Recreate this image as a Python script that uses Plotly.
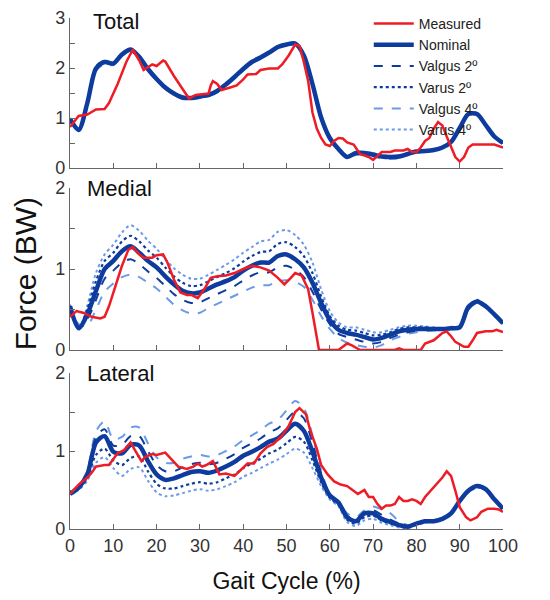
import plotly.graph_objects as go
from plotly.subplots import make_subplots

# ---------------- data ----------------
x_model = list(range(0, 101, 2))

total_nominal = [0.98,0.76,1.30,1.99,2.12,2.09,2.27,2.37,2.22,1.98,1.78,1.61,1.49,1.41,1.40,1.43,1.46,1.54,1.67,1.82,1.98,2.12,2.21,2.31,2.42,2.47,2.49,2.25,1.68,1.01,0.60,0.38,0.22,0.30,0.30,0.27,0.23,0.22,0.23,0.28,0.33,0.34,0.36,0.41,0.52,0.80,1.08,1.08,0.86,0.63,0.50]
total_valgus2 = [0.97,0.77,1.28,1.97,2.11,2.08,2.26,2.36,2.21,1.97,1.77,1.60,1.48,1.40,1.39,1.42,1.45,1.53,1.66,1.81,1.97,2.11,2.20,2.30,2.41,2.46,2.48,2.26,1.70,1.03,0.61,0.38,0.22,0.28,0.28,0.25,0.21,0.20,0.22,0.27,0.32,0.34,0.36,0.41,0.52,0.80,1.07,1.08,0.86,0.63,0.50]
total_varus2 = [0.99,0.75,1.32,2.01,2.14,2.10,2.28,2.38,2.23,1.99,1.79,1.62,1.50,1.42,1.41,1.44,1.47,1.55,1.68,1.83,1.99,2.13,2.22,2.32,2.43,2.48,2.50,2.24,1.66,1.00,0.59,0.38,0.23,0.31,0.31,0.28,0.24,0.23,0.24,0.29,0.34,0.35,0.37,0.42,0.53,0.81,1.09,1.09,0.86,0.63,0.50]
total_valgus4 = [0.96,0.79,1.25,1.94,2.08,2.06,2.24,2.34,2.19,1.95,1.75,1.58,1.46,1.38,1.37,1.40,1.44,1.52,1.65,1.80,1.96,2.10,2.19,2.29,2.40,2.45,2.47,2.27,1.72,1.05,0.62,0.39,0.21,0.26,0.26,0.23,0.19,0.18,0.20,0.26,0.31,0.33,0.35,0.40,0.51,0.79,1.06,1.07,0.86,0.63,0.50]
total_varus4 = [1.00,0.74,1.35,2.03,2.15,2.11,2.29,2.39,2.24,2.00,1.80,1.63,1.51,1.43,1.42,1.45,1.48,1.56,1.69,1.84,2.00,2.14,2.23,2.33,2.44,2.49,2.51,2.23,1.64,0.99,0.58,0.38,0.24,0.32,0.32,0.29,0.25,0.24,0.25,0.30,0.35,0.36,0.38,0.43,0.54,0.82,1.10,1.10,0.87,0.64,0.50]

medial_nominal = [0.54,0.27,0.44,0.73,1.00,1.10,1.22,1.28,1.20,1.10,1.02,0.91,0.81,0.73,0.70,0.71,0.76,0.81,0.85,0.90,0.98,1.04,1.08,1.08,1.16,1.18,1.12,1.02,0.83,0.58,0.37,0.25,0.21,0.19,0.16,0.13,0.15,0.19,0.23,0.25,0.26,0.26,0.26,0.26,0.27,0.28,0.53,0.60,0.54,0.44,0.33]
medial_valgus2 = [0.55,0.29,0.38,0.62,0.88,0.98,1.08,1.12,1.06,0.97,0.89,0.79,0.69,0.62,0.58,0.59,0.64,0.69,0.74,0.79,0.86,0.92,0.96,0.96,1.02,1.04,0.99,0.90,0.72,0.50,0.32,0.20,0.16,0.13,0.10,0.08,0.10,0.15,0.19,0.22,0.24,0.25,0.25,0.25,0.26,0.28,0.50,0.59,0.53,0.44,0.33]
medial_varus2 = [0.53,0.26,0.50,0.85,1.10,1.20,1.34,1.41,1.34,1.23,1.14,1.02,0.91,0.83,0.79,0.80,0.85,0.90,0.95,1.01,1.09,1.16,1.21,1.22,1.31,1.33,1.27,1.16,0.95,0.66,0.42,0.30,0.25,0.24,0.21,0.18,0.19,0.22,0.26,0.28,0.28,0.28,0.27,0.27,0.27,0.29,0.53,0.61,0.55,0.44,0.33]
medial_valgus4 = [0.56,0.32,0.30,0.50,0.72,0.82,0.90,0.93,0.90,0.83,0.76,0.66,0.56,0.49,0.45,0.46,0.52,0.57,0.62,0.67,0.72,0.77,0.80,0.80,0.85,0.86,0.84,0.78,0.62,0.42,0.26,0.15,0.09,0.06,0.04,0.03,0.06,0.12,0.16,0.20,0.22,0.23,0.24,0.24,0.25,0.27,0.50,0.58,0.53,0.44,0.33]
medial_varus4 = [0.52,0.25,0.55,0.95,1.18,1.30,1.45,1.54,1.47,1.35,1.25,1.12,1.01,0.93,0.88,0.88,0.93,0.99,1.05,1.12,1.20,1.27,1.34,1.36,1.46,1.48,1.42,1.30,1.08,0.75,0.48,0.34,0.28,0.28,0.25,0.22,0.22,0.25,0.28,0.30,0.30,0.29,0.28,0.27,0.27,0.30,0.54,0.62,0.55,0.44,0.32]

lateral_nominal = [0.45,0.53,0.70,1.11,1.19,0.99,0.97,1.08,1.07,0.87,0.70,0.63,0.65,0.69,0.73,0.74,0.72,0.75,0.80,0.86,0.94,0.99,1.05,1.12,1.16,1.26,1.35,1.26,0.99,0.66,0.43,0.34,0.15,0.10,0.20,0.20,0.13,0.09,0.05,0.03,0.07,0.10,0.10,0.13,0.20,0.36,0.49,0.55,0.51,0.38,0.26]
lateral_valgus2 = [0.45,0.54,0.72,1.18,1.28,1.07,1.08,1.19,1.19,1.00,0.82,0.74,0.74,0.79,0.83,0.85,0.83,0.85,0.90,0.96,1.04,1.10,1.16,1.24,1.29,1.40,1.50,1.42,1.10,0.71,0.44,0.34,0.17,0.12,0.22,0.24,0.18,0.12,0.07,0.04,0.07,0.10,0.10,0.13,0.20,0.36,0.49,0.55,0.51,0.38,0.26]
lateral_varus2 = [0.45,0.52,0.66,0.95,1.03,0.88,0.82,0.91,0.93,0.74,0.58,0.52,0.52,0.55,0.58,0.60,0.58,0.60,0.65,0.70,0.78,0.84,0.90,0.97,1.02,1.10,1.18,1.12,0.88,0.60,0.40,0.31,0.12,0.07,0.15,0.17,0.11,0.07,0.04,0.02,0.06,0.09,0.10,0.12,0.19,0.35,0.48,0.54,0.50,0.38,0.26]
lateral_valgus4 = [0.45,0.55,0.75,1.25,1.38,1.15,1.18,1.30,1.30,1.10,0.92,0.85,0.85,0.90,0.93,0.95,0.93,0.95,1.00,1.06,1.14,1.20,1.27,1.35,1.40,1.52,1.64,1.55,1.20,0.75,0.45,0.35,0.20,0.15,0.24,0.29,0.25,0.20,0.10,0.05,0.07,0.10,0.10,0.13,0.20,0.37,0.50,0.56,0.52,0.38,0.26]
lateral_varus4 = [0.45,0.50,0.62,0.85,0.92,0.78,0.68,0.77,0.79,0.62,0.47,0.42,0.43,0.46,0.49,0.51,0.49,0.51,0.55,0.60,0.67,0.72,0.78,0.84,0.89,0.96,1.03,0.98,0.78,0.55,0.38,0.29,0.09,0.04,0.11,0.13,0.08,0.05,0.02,0.01,0.05,0.08,0.09,0.12,0.18,0.34,0.47,0.53,0.50,0.38,0.26]

total_meas_x = [0,2,4,6,8,9,11,13,14.5,16,17,19,20,21.5,22,24,26,27.5,29,31,32,32.5,33,34,35,37,38.5,40,41,43,44,46,48,49,50.5,52,53,54,55,56,57,58,59,60,61,62,63,64,65.5,67,68,69,70,71,72,74,75,77,78,79,80,81,82,83,84,85,86,87,88,89,90,91,92,93,95,97,98,100]
total_meas_y = [0.82,1.04,1.07,1.17,1.18,1.30,1.68,2.12,2.37,2.15,1.96,2.07,2.04,2.15,2.13,1.84,1.58,1.39,1.46,1.49,1.49,1.65,1.74,1.68,1.56,1.61,1.65,1.77,1.87,1.88,1.96,1.99,1.99,2.07,2.25,2.47,2.44,2.12,1.74,1.11,0.79,0.60,0.47,0.44,0.54,0.60,0.59,0.51,0.47,0.28,0.25,0.22,0.16,0.25,0.32,0.32,0.35,0.35,0.38,0.32,0.32,0.41,0.54,0.60,0.79,0.92,0.85,0.63,0.41,0.22,0.13,0.22,0.41,0.47,0.47,0.47,0.47,0.41]

medial_meas_x = [0,1.5,3,5,7,8,9,10.5,12,13.5,14.5,16,17,19,20,21.5,22.5,24,25.5,27,28,29.5,31,32.5,34,36,38,40,42,44,46,48,49.5,51,52,53.5,55,56,57,57.5,62,64,65,67,75,76,77,81,82,84,86,87,88,89,91,92,93,94,96,97.5,98.5,100]
medial_meas_y = [0.41,0.48,0.46,0.41,0.39,0.41,0.54,0.79,1.04,1.24,1.27,1.18,1.14,1.14,1.17,1.18,1.08,0.87,0.71,0.68,0.68,0.64,0.75,0.89,0.91,0.92,0.95,1.00,1.04,1.02,0.98,0.89,0.81,0.89,0.95,0.92,0.75,0.46,0.17,0.0,0.0,0.08,0.06,0.0,0.0,0.02,0.0,0.0,0.08,0.12,0.21,0.23,0.17,0.10,0.04,0.04,0.12,0.21,0.23,0.23,0.25,0.22]

lateral_meas_x = [0,2,4,5,6,8,9,10,11,12.5,14,15,16.5,17.5,19,20,22,23.5,25,27,28.5,29.5,30.5,31.5,33,34.5,36,38,39.5,41,42.5,44,45.5,47,49,50.5,52,53,54.5,55.5,57,58,59.5,61,62.5,64,65,66.5,68,69,70,71,72,73,74,75,76,77,78,79,80,81,82,84,86,87,88,89,90,91.5,92.5,94,95,96.5,98,99,100]
lateral_meas_y = [0.45,0.57,0.66,0.72,0.80,0.82,0.82,0.90,0.97,1.01,1.11,1.01,0.87,0.93,0.96,0.95,0.98,0.89,0.80,0.77,0.80,0.84,0.80,0.82,0.87,0.70,0.71,0.68,0.76,0.84,0.84,0.97,1.05,1.09,1.20,1.32,1.50,1.55,1.47,1.26,1.03,0.82,0.70,0.61,0.57,0.55,0.51,0.45,0.50,0.41,0.41,0.32,0.26,0.30,0.30,0.32,0.41,0.36,0.36,0.38,0.36,0.32,0.41,0.53,0.66,0.74,0.68,0.49,0.28,0.15,0.11,0.15,0.22,0.26,0.26,0.25,0.22]

panel_names = ["Total", "Medial", "Lateral"]
series_names = ["Measured", "Nominal", "Valgus 2º", "Varus 2º", "Valgus 4º", "Varus 4º"]
x_ticks = [0, 10, 20, 30, 40, 50, 60, 70, 80, 90, 100]

# ---------------- styles ----------------
RED = "#ee1c25"
DARK = "#0d3c9e"
LIGHT = "#6b9ae6"
model_styles = {
    "Nominal": dict(color=DARK, width=4.5, dash="solid"),
    "Valgus 2º": dict(color=DARK, width=2, dash="dash"),
    "Varus 2º": dict(color=DARK, width=2.2, dash="dot"),
    "Valgus 4º": dict(color=LIGHT, width=2, dash="dash"),
    "Varus 4º": dict(color=LIGHT, width=2, dash="dot"),
}

panels = [
    (dict(zip(series_names[1:], [total_nominal, total_valgus2, total_varus2, total_valgus4, total_varus4])), total_meas_x, total_meas_y, 3),
    (dict(zip(series_names[1:], [medial_nominal, medial_valgus2, medial_varus2, medial_valgus4, medial_varus4])), medial_meas_x, medial_meas_y, 2),
    (dict(zip(series_names[1:], [lateral_nominal, lateral_valgus2, lateral_varus2, lateral_valgus4, lateral_varus4])), lateral_meas_x, lateral_meas_y, 2),
]

fig = make_subplots(rows=3, cols=1, shared_xaxes=False, vertical_spacing=0.0)

TOP = 10
H = 600.0 - TOP - 79
domains = [
    [(529 - 168) / H, 1.0],
    [(529 - 350) / H, (529 - 188) / H],
    [0.0, (529 - 373) / H],
]

AX = "#666666"
FONT = "Liberation Sans, Arial, sans-serif"

for i, (models, mx, my, ymax) in enumerate(panels):
    row = i + 1
    show = (i == 0)
    order = ["Varus 4º", "Valgus 4º", "Varus 2º", "Valgus 2º", "Nominal"]
    for name in order:
        st = model_styles[name]
        fig.add_trace(go.Scatter(
            x=x_model, y=models[name], mode="lines", name=name,
            line=dict(color=st["color"], width=st["width"], dash=st["dash"], shape="spline", smoothing=0.8),
            showlegend=show, legendrank=series_names.index(name) + 1,
        ), row=row, col=1)
    fig.add_trace(go.Scatter(
        x=mx, y=my, mode="lines", name="Measured",
        line=dict(color=RED, width=2.5),
        showlegend=show, legendrank=1,
    ), row=row, col=1)

    yvals = [k * 0.5 for k in range(int(ymax * 2) + 1)]
    ytext = [str(int(v)) if v == int(v) else "" for v in yvals]
    yname = "yaxis" if i == 0 else f"yaxis{i+1}"
    xname = "xaxis" if i == 0 else f"xaxis{i+1}"
    fig.layout[yname].update(
        domain=domains[i], range=[0, ymax], tickvals=yvals, ticktext=ytext,
        ticks="inside", ticklen=5, tickcolor=AX, showline=True, linecolor=AX, linewidth=1.2,
        showgrid=False, zeroline=False,
        tickfont=dict(size=18, color="#333333", family=FONT),
    )
    fig.layout[xname].update(
        range=[0, 100], tickvals=x_ticks, showticklabels=(i == 2),
        ticks="inside", ticklen=5, tickcolor=AX, showline=True, linecolor=AX, linewidth=1.2,
        showgrid=False, zeroline=False, tickfont=dict(size=18, color="#333333", family=FONT),
    )
    if i == 0:
        fig.add_annotation(
            text=panel_names[i], xref="x domain", yref="paper",
            x=0.05, y=1.0 + TOP / H, xanchor="left", yanchor="top", showarrow=False, borderpad=0,
            font=dict(size=22, color="#111111", family=FONT),
        )
    else:
        fig.add_annotation(
            text=panel_names[i], xref=f"x{i+1} domain", yref=f"y{i+1} domain",
            x=0.035, y=1.0, xanchor="left", yanchor="middle", showarrow=False,
            font=dict(size=22, color="#111111", family=FONT),
        )

fig.layout.xaxis3.update(title=dict(text="Gait Cycle (%)", font=dict(size=23, color="#111111", family=FONT), standoff=18))

fig.add_annotation(
    text="Force (BW)", xref="paper", yref="paper", x=-0.102, y=0.5,
    textangle=-90, showarrow=False, xanchor="center", yanchor="middle",
    font=dict(size=30, color="#111111", family=FONT),
)

fig.update_layout(
    width=550, height=600,
    margin=dict(l=62, r=55, t=TOP, b=79, autoexpand=False),
    paper_bgcolor="white", plot_bgcolor="white",
    font=dict(family=FONT),
    legend=dict(
        xref="paper", yref="container",
        x=0.69, y=1.012, xanchor="left", yanchor="top",
        bgcolor="rgba(0,0,0,0)", font=dict(size=14, color="#222222", family=FONT),
        tracegroupgap=0, itemwidth=40,
    ),
    showlegend=True,
)

fig.write_html("out.html")
